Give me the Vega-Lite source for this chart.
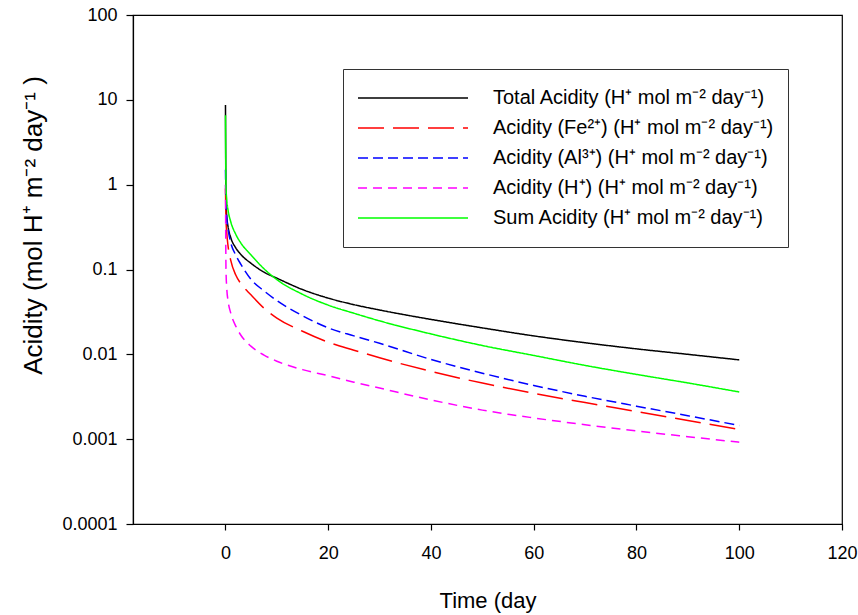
{
  "$schema": "https://vega.github.io/schema/vega-lite/v6.json",
  "width": 709,
  "height": 509,
  "autosize": {"type": "none"},
  "padding": {"left": 133, "top": 15, "right": 16, "bottom": 91},
  "background": "white",
  "config": {
    "font": "Liberation Sans",
    "view": {"stroke": "#000000", "strokeWidth": 1.2},
    "axis": {
      "grid": false,
      "domainColor": "#000000",
      "domainWidth": 1.2,
      "tickColor": "#000000",
      "tickWidth": 1.2,
      "labelColor": "#000000",
      "titleColor": "#000000",
      "labelFont": "Liberation Sans",
      "titleFont": "Liberation Sans",
      "titleFontWeight": "normal",
      "labelFontSize": 18,
      "labelFlush": false,
      "labelOverlap": false
    }
  },
  "data": {
    "values": [
      {"s": "T", "t": 0, "v": 8.7}, {"s": "T", "t": 0.1, "v": 0.6}, {"s": "T", "t": 0.25, "v": 0.42}, {"s": "T", "t": 0.5, "v": 0.32}, {"s": "T", "t": 1, "v": 0.24}, {"s": "T", "t": 2, "v": 0.18}, {"s": "T", "t": 3, "v": 0.15}, {"s": "T", "t": 5, "v": 0.118}, {"s": "T", "t": 7.5, "v": 0.093}, {"s": "T", "t": 10, "v": 0.079}, {"s": "T", "t": 15, "v": 0.058}, {"s": "T", "t": 20, "v": 0.046}, {"s": "T", "t": 25, "v": 0.0385}, {"s": "T", "t": 30, "v": 0.0333}, {"s": "T", "t": 40, "v": 0.0258}, {"s": "T", "t": 50, "v": 0.0205}, {"s": "T", "t": 60, "v": 0.0165}, {"s": "T", "t": 70, "v": 0.0137}, {"s": "T", "t": 80, "v": 0.0116}, {"s": "T", "t": 90, "v": 0.01}, {"s": "T", "t": 100, "v": 0.0086},
      {"s": "Fe", "t": 0, "v": 0.9}, {"s": "Fe", "t": 0.1, "v": 0.4}, {"s": "Fe", "t": 0.25, "v": 0.27}, {"s": "Fe", "t": 0.5, "v": 0.19}, {"s": "Fe", "t": 1, "v": 0.13}, {"s": "Fe", "t": 2, "v": 0.086}, {"s": "Fe", "t": 3, "v": 0.068}, {"s": "Fe", "t": 5, "v": 0.05}, {"s": "Fe", "t": 7.5, "v": 0.035}, {"s": "Fe", "t": 10, "v": 0.0268}, {"s": "Fe", "t": 15, "v": 0.0187}, {"s": "Fe", "t": 20, "v": 0.0139}, {"s": "Fe", "t": 25, "v": 0.0112}, {"s": "Fe", "t": 30, "v": 0.0091}, {"s": "Fe", "t": 40, "v": 0.0063}, {"s": "Fe", "t": 50, "v": 0.00458}, {"s": "Fe", "t": 60, "v": 0.00347}, {"s": "Fe", "t": 70, "v": 0.0027}, {"s": "Fe", "t": 80, "v": 0.00212}, {"s": "Fe", "t": 90, "v": 0.00166}, {"s": "Fe", "t": 100, "v": 0.0013},
      {"s": "Al", "t": 0, "v": 1.5}, {"s": "Al", "t": 0.1, "v": 0.6}, {"s": "Al", "t": 0.25, "v": 0.4}, {"s": "Al", "t": 0.5, "v": 0.3}, {"s": "Al", "t": 1, "v": 0.21}, {"s": "Al", "t": 2, "v": 0.148}, {"s": "Al", "t": 3, "v": 0.115}, {"s": "Al", "t": 5, "v": 0.076}, {"s": "Al", "t": 7.5, "v": 0.056}, {"s": "Al", "t": 10, "v": 0.043}, {"s": "Al", "t": 15, "v": 0.0285}, {"s": "Al", "t": 20, "v": 0.0205}, {"s": "Al", "t": 25, "v": 0.0165}, {"s": "Al", "t": 30, "v": 0.0135}, {"s": "Al", "t": 40, "v": 0.0087}, {"s": "Al", "t": 50, "v": 0.006}, {"s": "Al", "t": 60, "v": 0.0043}, {"s": "Al", "t": 70, "v": 0.0032}, {"s": "Al", "t": 80, "v": 0.00245}, {"s": "Al", "t": 90, "v": 0.00189}, {"s": "Al", "t": 100, "v": 0.00145},
      {"s": "H", "t": 0, "v": 1.0}, {"s": "H", "t": 0.1, "v": 0.1}, {"s": "H", "t": 0.25, "v": 0.06}, {"s": "H", "t": 0.5, "v": 0.043}, {"s": "H", "t": 1, "v": 0.031}, {"s": "H", "t": 2, "v": 0.0215}, {"s": "H", "t": 3, "v": 0.0168}, {"s": "H", "t": 5, "v": 0.0124}, {"s": "H", "t": 7.5, "v": 0.0098}, {"s": "H", "t": 10, "v": 0.0083}, {"s": "H", "t": 15, "v": 0.0066}, {"s": "H", "t": 20, "v": 0.0056}, {"s": "H", "t": 25, "v": 0.0047}, {"s": "H", "t": 30, "v": 0.004}, {"s": "H", "t": 40, "v": 0.0029}, {"s": "H", "t": 50, "v": 0.0022}, {"s": "H", "t": 60, "v": 0.00178}, {"s": "H", "t": 70, "v": 0.00148}, {"s": "H", "t": 80, "v": 0.00125}, {"s": "H", "t": 90, "v": 0.00107}, {"s": "H", "t": 100, "v": 0.00092},
      {"s": "S", "t": 0, "v": 6.6}, {"s": "S", "t": 0.1, "v": 0.95}, {"s": "S", "t": 0.25, "v": 0.66}, {"s": "S", "t": 0.5, "v": 0.5}, {"s": "S", "t": 1, "v": 0.37}, {"s": "S", "t": 2, "v": 0.26}, {"s": "S", "t": 3, "v": 0.205}, {"s": "S", "t": 5, "v": 0.148}, {"s": "S", "t": 7.5, "v": 0.102}, {"s": "S", "t": 10, "v": 0.076}, {"s": "S", "t": 15, "v": 0.051}, {"s": "S", "t": 20, "v": 0.038}, {"s": "S", "t": 25, "v": 0.0305}, {"s": "S", "t": 30, "v": 0.0248}, {"s": "S", "t": 40, "v": 0.0174}, {"s": "S", "t": 50, "v": 0.0127}, {"s": "S", "t": 60, "v": 0.0097}, {"s": "S", "t": 70, "v": 0.0074}, {"s": "S", "t": 80, "v": 0.0058}, {"s": "S", "t": 90, "v": 0.0046}, {"s": "S", "t": 100, "v": 0.0036}
    ]
  },
  "mark": {"type": "line", "strokeWidth": 1.5, "interpolate": "monotone"},
  "encoding": {
    "x": {
      "field": "t",
      "type": "quantitative",
      "scale": {"domain": [-18, 120], "nice": false, "zero": false},
      "axis": {
        "title": "Time (day",
        "titleFontSize": 22,
        "values": [0, 20, 40, 60, 80, 100, 120],
        "tickSize": 6,
        "labelPadding": 14,
        "titleY": 76,
        "titleBaseline": "middle"
      }
    },
    "y": {
      "field": "v",
      "type": "quantitative",
      "scale": {"type": "log", "domain": [0.0001, 100], "nice": false},
      "axis": {
        "title": "Acidity (mol H⁺ m⁻² day⁻¹ )",
        "titleFontSize": 26,
        "values": [0.0001, 0.001, 0.01, 0.1, 1, 10, 100],
        "format": "~g",
        "tickSize": 7,
        "labelPadding": 9,
        "titleX": -100,
        "titleY": 210,
        "titleAngle": -90,
        "titleBaseline": "middle",
        "titleAlign": "center"
      }
    },
    "color": {
      "field": "s",
      "type": "nominal",
      "scale": {
        "domain": ["T", "Fe", "Al", "H", "S"],
        "range": ["#000000", "#ff0000", "#0000ff", "#ff00ff", "#00ff00"]
      },
      "legend": {
        "orient": "none",
        "legendX": 210,
        "legendY": 54,
        "title": null,
        "padding": 14,
        "strokeColor": "#333333",
        "fillColor": "white",
        "symbolType": "stroke",
        "symbolSize": 12100,
        "symbolStrokeWidth": 1.5,
        "labelFontSize": 20,
        "labelFont": "Liberation Sans",
        "labelColor": "#000000",
        "labelOffset": 24,
        "labelLimit": 0,
        "clipHeight": 30,
        "rowPadding": 0,
        "labelExpr": "datum.label == 'T' ? 'Total Acidity (H⁺ mol m⁻² day⁻¹)' : datum.label == 'Fe' ? 'Acidity (Fe²⁺) (H⁺ mol m⁻² day⁻¹)' : datum.label == 'Al' ? 'Acidity (Al³⁺) (H⁺ mol m⁻² day⁻¹)' : datum.label == 'H' ? 'Acidity (H⁺) (H⁺ mol m⁻² day⁻¹)' : 'Sum Acidity (H⁺ mol m⁻² day⁻¹)'"
      }
    },
    "strokeDash": {
      "field": "s",
      "type": "nominal",
      "scale": {
        "domain": ["T", "Fe", "Al", "H", "S"],
        "range": [[1, 0], [26, 9], [10, 5], [9, 6], [1, 0]]
      }
    }
  }
}
